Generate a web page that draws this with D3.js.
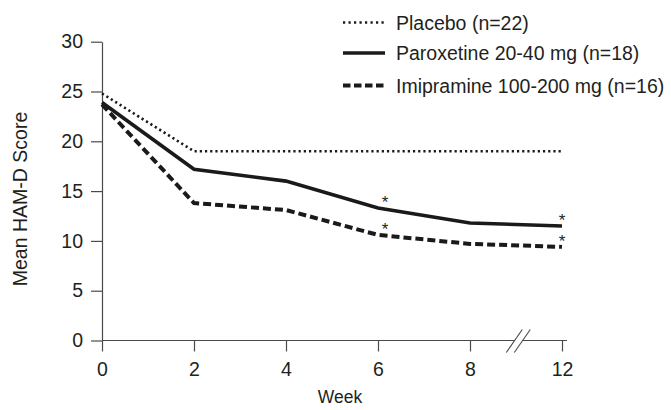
<!DOCTYPE html>
<html>
<head>
<meta charset="utf-8">
<script src="https://cdn.jsdelivr.net/npm/d3@7"></script>
<style>
  html, body { margin: 0; padding: 0; background: #fff; }
  svg { display: block; }
  text { font-family: "Liberation Sans", Arial, Helvetica, sans-serif; fill: #231f20; }
</style>
</head>
<body>
<div id="chart"></div>
<script>
/* Chart data */
const weeks = [0, 2, 4, 6, 8, 12];
const placeboValues = [24.8, 19.0, 19.0, 19.0, 19.0, 19.0];
const paroxetineValues = [23.9, 17.2, 16.0, 13.3, 11.8, 11.5];
const imipramineValues = [23.7, 13.8, 13.1, 10.6, 9.7, 9.4];
const seriesLabels = [
  'Placebo (n=22)',
  'Paroxetine 20-40 mg (n=18)',
  'Imipramine 100-200 mg (n=16)',
];
const yTicks = [0, 5, 10, 15, 20, 25, 30];
/* Points marked as significant (series index, week) */
const significantPoints = [
  { series: 1, week: 6 },
  { series: 2, week: 6 },
  { series: 1, week: 12 },
  { series: 2, week: 12 },
];

/**
 * Line chart of mean HAM-D score by week with a broken x axis.
 */
class HamdChartView {

  /**
   * @param {HTMLElement} containerEl Container element to append the chart
   */
  constructor(containerEl) {
    this.containerEl = containerEl;
    this.width = 671;
    this.height = 410;

    /** Piecewise x scale: weeks 8 to 12 squeezed after the axis break */
    this.x = d3.scaleLinear()
        .domain([0, 8, 12])
        .range([102, 470, 562]);
    this.y = d3.scaleLinear()
        .domain([0, 30])
        .range([340.5, 41.7]);

    this.series = [
      { values: placeboValues, width: 2.6, dash: '2.2,3', legendDash: '2.2,3.3' },
      { values: paroxetineValues, width: 3.6, dash: null, legendDash: null },
      { values: imipramineValues, width: 4, dash: '8,4', legendDash: '7.5,3.5' },
    ];

    this.svg = d3.select(this.containerEl)
        .append('svg')
        .attr('width', this.width)
        .attr('height', this.height)
        .attr('viewBox', `0 0 ${this.width} ${this.height}`);

    this._drawAxes();
    this._drawLines();
    this._drawMarkers();
    this._drawLegend();
  }

  _drawAxes() {
    const axisColor = '#4a4a4a';

    let yAxisD3 = this.svg.append('g')
        .attr('class', 'y-axis')
        .attr('transform', `translate(${this.x(0)}, 0)`)
        .call(d3.axisLeft(this.y)
            .tickValues(yTicks)
            .tickSize(11)
            .tickSizeOuter(0)
            .tickPadding(8));
    yAxisD3.selectAll('path, line')
        .attr('stroke', axisColor)
        .attr('stroke-width', 1.2);
    yAxisD3.selectAll('text')
        .attr('font-size', '19.5px')
        .attr('fill', '#231f20');

    let xAxisD3 = this.svg.append('g')
        .attr('class', 'x-axis')
        .attr('transform', `translate(0, ${this.y(0)})`)
        .call(d3.axisBottom(this.x)
            .tickValues(weeks)
            .tickSize(11)
            .tickSizeOuter(0)
            .tickPadding(11));
    xAxisD3.select('.domain').remove();
    xAxisD3.selectAll('line')
        .attr('stroke', axisColor)
        .attr('stroke-width', 1.2);
    xAxisD3.selectAll('text')
        .attr('font-size', '19.5px')
        .attr('fill', '#231f20');

    /* Broken x axis line */
    let breakX = this.x(10.1);
    let y0 = this.y(0);
    let segments = [
      [this.x(0), breakX - 4],
      [breakX + 4, this.x(12) + 5],
    ];
    this.svg.append('g')
        .attr('class', 'x-domain')
        .selectAll('line')
        .data(segments)
        .join('line')
        .attr('x1', d => d[0])
        .attr('x2', d => d[1])
        .attr('y1', y0)
        .attr('y2', y0)
        .attr('stroke', axisColor)
        .attr('stroke-width', 1.2);

    this.svg.append('g')
        .attr('class', 'x-break')
        .selectAll('line')
        .data([-4, 4])
        .join('line')
        .attr('x1', d => breakX + d - 8)
        .attr('y1', y0 + 12)
        .attr('x2', d => breakX + d + 8)
        .attr('y2', y0 - 11)
        .attr('stroke', axisColor)
        .attr('stroke-width', 1.1);

    this.svg.append('text')
        .attr('x', 340)
        .attr('y', 403)
        .attr('text-anchor', 'middle')
        .attr('font-size', '17.5px')
        .text('Week');

    this.svg.append('text')
        .attr('transform', 'translate(27, 199) rotate(-90)')
        .attr('text-anchor', 'middle')
        .attr('font-size', '19.5px')
        .text('Mean HAM-D Score');
  }

  _drawLines() {
    let line = d3.line()
        .x((d, i) => this.x(weeks[i]))
        .y(d => this.y(d));

    this.svg.append('g')
        .attr('class', 'lines')
        .selectAll('path')
        .data(this.series)
        .join('path')
        .attr('d', d => line(d.values))
        .attr('fill', 'none')
        .attr('stroke', '#1a1a1a')
        .attr('stroke-width', d => d.width)
        .attr('stroke-dasharray', d => d.dash);
  }

  _drawMarkers() {
    this.svg.append('g')
        .attr('class', 'markers')
        .selectAll('text')
        .data(significantPoints)
        .join('text')
        .attr('x', d => this.x(d.week) + (d.week === 12 ? 0 : 7))
        .attr('y', d => {
          let i = weeks.indexOf(d.week);
          return this.y(this.series[d.series].values[i]);
        })
        .attr('text-anchor', 'middle')
        .attr('font-size', '17px')
        .attr('fill', '#1a1a1a')
        .text('*');
  }

  _drawLegend() {
    let baselines = [29.5, 60, 92.5];
    let legendD3 = this.svg.append('g')
        .attr('class', 'legend')
        .selectAll('g')
        .data(this.series)
        .join('g')
        .attr('transform', (d, i) => `translate(343, ${baselines[i]})`);

    legendD3.append('line')
        .attr('x1', 0)
        .attr('x2', 42)
        .attr('y1', -7)
        .attr('y2', -7)
        .attr('stroke', '#1a1a1a')
        .attr('stroke-width', d => d.width)
        .attr('stroke-dasharray', d => d.legendDash);

    legendD3.append('text')
        .attr('x', 53)
        .attr('y', 0)
        .attr('font-size', '19.5px')
        .text((d, i) => seriesLabels[i]);
  }

}

new HamdChartView(document.getElementById('chart'));
</script>
</body>
</html>
